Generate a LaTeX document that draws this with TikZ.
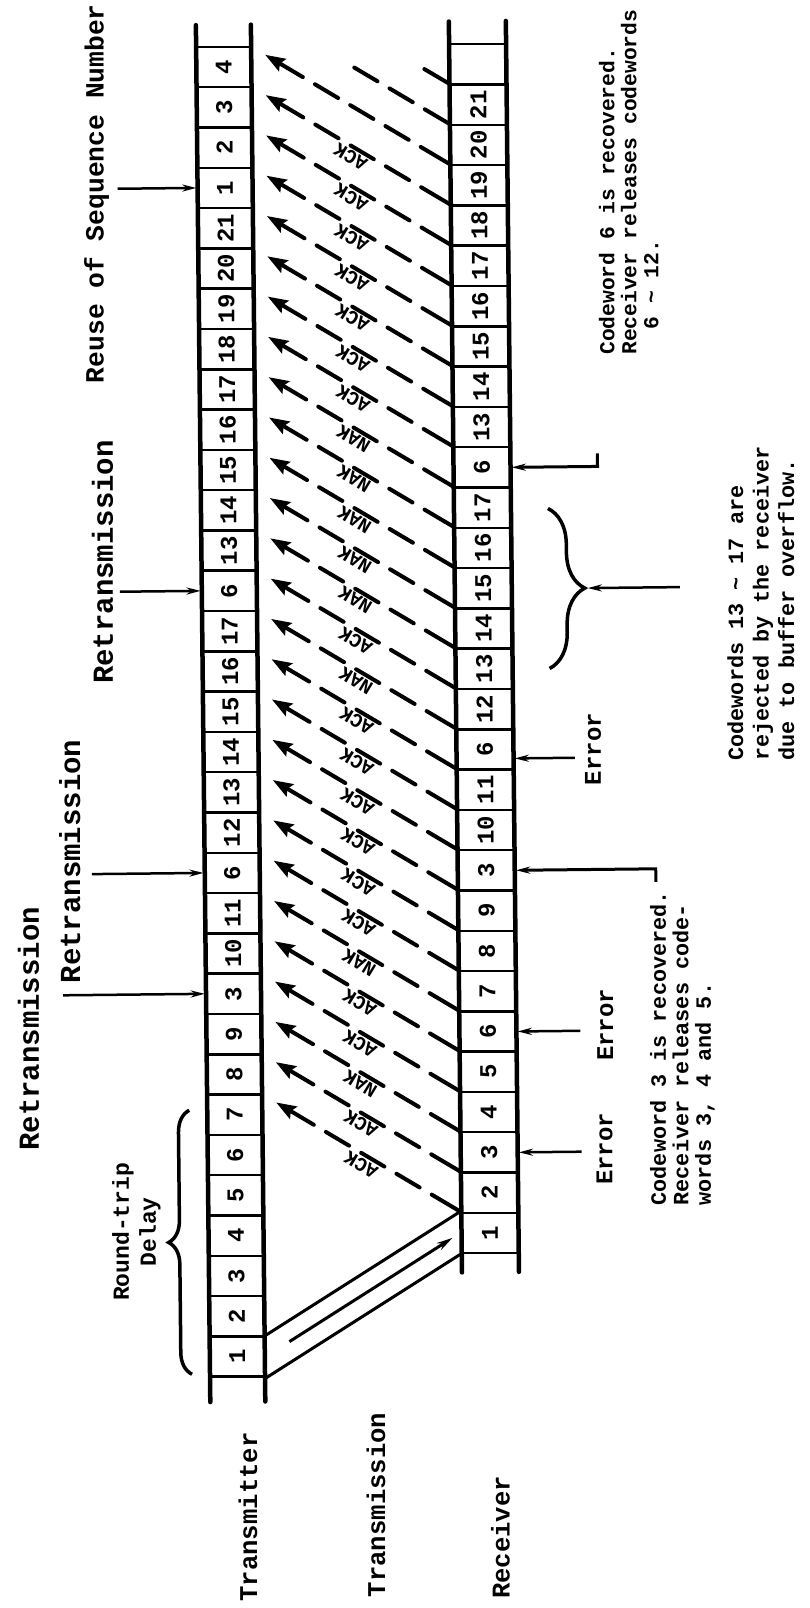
\documentclass[tikz,border=0pt]{standalone}
\usepackage{fontspec}
\setmonofont{Liberation Mono}
\usetikzlibrary{arrows.meta,positioning,calc,decorations.pathreplacing}

\newcommand{\tyfont}[2]{\fontsize{#1}{#2}\selectfont\ttfamily\bfseries}

\tikzset{
  rail/.style={line width=4.5pt, line cap=round},
  slot/.style={draw, line width=2.5pt, inner sep=0pt, minimum height=40.3pt, font=\tyfont{24}{24}},
  ackline/.style={line width=4pt, line cap=round, {Stealth[length=20pt,width=14pt,inset=3pt]}-,
    dash pattern=on 28pt off 14pt on 27pt off 14pt on 27pt off 14pt on 27pt off 14pt on 40pt off 14pt},
  ackdash/.style={line width=4pt, line cap=round, dash pattern=on 28pt off 14pt on 27pt off 14pt on 27pt off 14pt},
  acklabel/.style={rotate=148.8, anchor=south, inner sep=1.5pt, font=\tyfont{19.5}{19.5}},
  pointer/.style={line width=2.5pt, -{Stealth[length=14pt,width=7pt]}},
  linkline/.style={line width=3pt},
  bracket/.style={line width=3.5pt, decorate},
  sidetext/.style={rotate=90, inner sep=0pt},
}

\begin{document}
\begin{tikzpicture}[x=1pt,y=-1pt]
\fill[white] (0,0) rectangle (809,1608);
\useasboundingbox (0,0) rectangle (809,1608);
\begin{scope}[rotate around={0.6:(405,800)}]
  % transmitter and receiver buffers
  \foreach \n [count=\i] in {4,3,2,1,21,20,19,18,17,16,15,14,13,6,17,16,15,14,13,12,6,11,10,3,9,8,7,6,5,4,3,2,1}
    \node[slot, minimum width=55pt] (t\i) at (231.5,24.85+40.3*\i) {\rotatebox{90}{\n}};
  \foreach \n [count=\i] in {{},21,20,19,18,17,16,15,14,13,6,17,16,15,14,13,12,6,11,10,3,9,8,7,6,5,4,3,2,1}
    \node[slot, minimum width=57pt] (r\i) at (485.5,24.85+40.3*\i) {\rotatebox{90}{\n}};
  \draw[rail] (204,23) -- (204,1400); \draw[rail] (259,23) -- (259,1400);
  \draw[rail] (457,22) -- (457,1273); \draw[rail] (514,22) -- (514,1273);

  % first codeword on its way
  \draw[linkline] (t33.north east) -- (r30.north west);
  \draw[linkline] (t33.south east) -- (r30.south west);
  \draw[linkline, -{Stealth[length=16pt,width=8pt]}] ($(t33.east)!0.12!(r30.west)$) -- ($(t33.east)!0.96!(r30.west)$);

  % acknowledgements
  \coordinate (e2) at ($(r2.north west)+(-24,-14.5)$);
  \draw[ackdash] (r2.north west) -- (e2);
  \coordinate (e3) at ($(r3.north west)+(-94,-57)$);
  \draw[ackdash] (r3.north west) -- (e3);
  \foreach \k/\lab in {4/{},5/ACK,6/ACK,7/ACK,8/ACK,9/ACK,10/ACK,11/ACK,12/NAK,13/NAK,14/NAK,15/NAK,16/NAK,17/ACK,18/NAK,19/ACK,20/ACK,21/ACK,22/ACK,23/ACK,24/ACK,25/NAK,26/ACK,27/ACK,28/NAK,29/ACK,30/ACK} {
    \coordinate (a\k) at ($(r\k.north west)+(-183,-111)$);
    \draw[ackline] (a\k) -- node[acklabel, pos=0.49] {\lab} (r\k.north west);
  }

  % left side notes
  \node[sidetext, anchor=west, font=\tyfont{26.3}{26.3}] (reuse) at (101,380) {Reuse of Sequence Number};
  \node[sidetext, font=\tyfont{29}{29}] (re3) at (105,559) {Retransmission};
  \node[sidetext, font=\tyfont{29}{29}] (re2) at (69,858) {Retransmission};
  \node[sidetext, font=\tyfont{29}{29}] (re1) at (26,1025) {Retransmission};
  \draw[pointer] (124,0 |- t4.west) -- (t4.west);
  \draw[pointer] (122,0 |- t14.west) -- (t14.west);
  \draw[pointer] (91,0 |- t21.west) -- (t21.west);
  \draw[pointer] (61,0 |- t24.west) -- (t24.west);
  \node[sidetext, align=center, font=\tyfont{23}{27}] (rtd) at (132,1229) {Round-trip\\Delay};
  \draw[bracket, decoration={brace, amplitude=22pt}] (186,1372) -- (186,1108);

  % right side notes
  \node[sidetext, font=\tyfont{24}{24}] (err1) at (593.5,751) {Error};
  \node[sidetext, font=\tyfont{24}{24}] (err2) at (603,1027) {Error};
  \node[sidetext, font=\tyfont{24}{24}] (err3) at (601,1151) {Error};
  \draw[pointer] (err1.north |- r18.east) ++(-10,9) -- ([yshift=-9pt]r18.east);
  \draw[pointer] (578,0 |- r25.east) -- (r25.east);
  \draw[pointer] (578,0 |- r28.east) -- (r28.east);

  \node[sidetext, anchor=north west, align=left, font=\tyfont{21.3}{22}] (rec6) at (603.5,357)
    {Codeword 6 is recovered.\\Receiver releases codewords\\\hspace*{1.2em}6 \textasciitilde{} 12.};
  \draw[linkline, {Stealth[length=14pt,width=7pt]}-] (r11.east) -- (r11.east -| 601,0) -- ++(0,-13);

  \draw[bracket, decoration={brace, amplitude=36pt}] (551,510) -- (551,670);
  \coordinate (bt) at (590,590);
  \coordinate (bs) at (682,590);
  \draw[pointer] (bs) -- (bt);
  \node[sidetext, anchor=north west, align=left, font=\tyfont{21.8}{25.5}] (rej) at (727.5,764)
    {Codewords 13 \textasciitilde{} 17 are\\rejected by the receiver\\due to buffer overflow.};

  \node[sidetext, anchor=north west, align=left, font=\tyfont{21.8}{22.5}] (rec3) at (645.5,1208)
    {Codeword 3 is recovered.\\Receiver releases code-\\words 3, 4 and 5.};
  \draw[linkline, {Stealth[length=14pt,width=7pt]}-] (r21.east) -- (r21.east -| 655,0) -- ++(0,13);

  % bottom captions
  \node[sidetext, anchor=west, font=\tyfont{25.6}{25.6}] (txlab) at (239.5,1600) {Transmitter};
  \node[sidetext, anchor=west, font=\tyfont{25.6}{25.6}] (chlab) at (367.5,1597) {Transmission};
  \node[sidetext, anchor=west, font=\tyfont{25.6}{25.6}] (rxlab) at (492,1600) {Receiver};
\end{scope}
\end{tikzpicture}
\end{document}
